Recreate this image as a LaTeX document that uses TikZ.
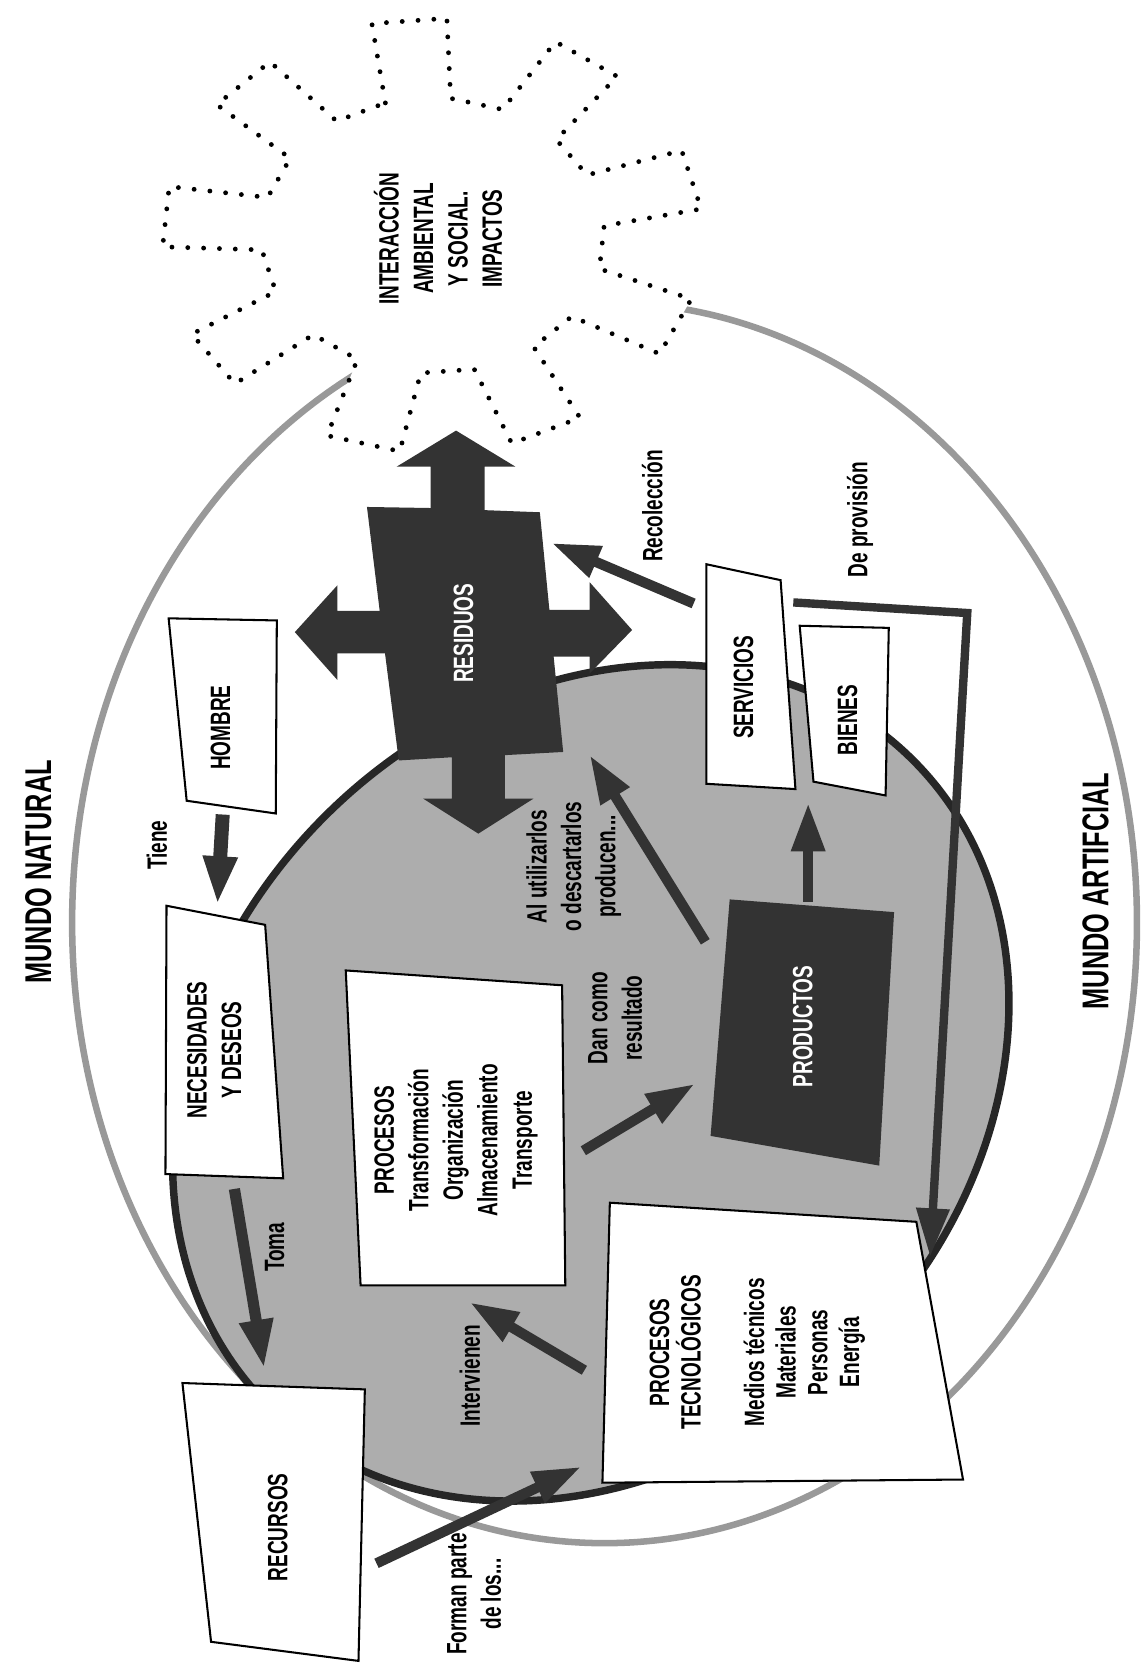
\documentclass[tikz,border=0pt]{standalone}
\usepackage{fontspec}
\setmainfont{Liberation Sans}[FakeStretch=0.68]
\usetikzlibrary{arrows.meta}

\begin{document}
\begin{tikzpicture}[
    x=0.02cm, y=-0.02cm,
    >=Triangle,
    every node/.style={font=\bfseries\fontsize{15}{18.5}\selectfont,
        align=center, inner sep=0pt, rotate=90},
    % mundo natural / artificial
    titulo/.style={font=\bfseries\fontsize{20}{24}\selectfont},
    % cajas blancas
    caja/.style={draw=black, line width=1.1pt, fill=white, line join=miter},
    % cajas oscuras
    oscura/.style={fill=black!80, draw=none},
    blanco/.style={text=white},
    % flechas
    flecha/.style={draw=black!80, line width=5.5pt,
        -{Triangle[length=26pt,width=17pt]}},
    % aros
    anillo/.style={draw=black!40, line width=3.5pt},
    disco/.style={draw=black!85, line width=4pt, fill=black!32},
    engranaje/.style={draw=black, line width=2.6pt, line cap=round,
        dash pattern=on 0pt off 8.5pt, fill=white},
]

\path[fill=white] (0,0) rectangle (1079,1568);
\useasboundingbox (0,0) rectangle (1079,1568);

%% ── aro exterior (mundo natural) ─────────────────────
\draw[anillo] (570,870) ellipse [x radius=502, y radius=585];

%% ── engranaje punteado ───────────────────────────────
\def\gx{408} \def\gy{222}
\begin{scope}[shift={(\gx,\gy)}]
\path[engranaje] (-106:162 and 130)
    \foreach \a in {-95,-55,...,225}{
        -- (\a-11:162 and 130) -- (\a-8:255 and 205)
        -- (\a+8:255 and 205) -- (\a+11:162 and 130)
    } -- cycle;
\end{scope}

%% ── disco interior (mundo artificial) ────────────────
\draw[disco, rotate around={45:(557,1021)}]
    (557,1021) ellipse [x radius=430, y radius=355];

%% ── residuos (cruz de flechas) ───────────────────────
\fill[oscura] (430,406) -- (486,440) -- (457,440) -- (457,481) -- (509,483)
    -- (518,575) -- (556,575) -- (556,549) -- (596,594) -- (556,635)
    -- (556,619) -- (522,619) -- (531,709) -- (476,712) -- (476,753)
    -- (503,753) -- (451,786) -- (399,753) -- (426,753) -- (426,714)
    -- (376,717) -- (363,616) -- (318,616) -- (318,641) -- (278,596)
    -- (318,552) -- (318,576) -- (358,576) -- (346,478) -- (406,479)
    -- (406,440) -- (374,440) -- cycle;

%% ── productos ────────────────────────────────────────
\fill[oscura] (688,848) -- (843,860) -- (829,1099) -- (670,1071) -- cycle;

%% ── cajas blancas ────────────────────────────────────
\draw[caja] (159,583) -- (261,585) -- (260,767) -- (176,755) -- cycle;      % hombre
\draw[caja] (157,854) -- (250,872) -- (267,1111) -- (156,1107) -- cycle;    % necesidades
\draw[caja] (172,1304) -- (344,1310) -- (338,1566) -- (199,1548) -- cycle;  % recursos
\draw[caja] (326,915) -- (530,929) -- (533,1212) -- (340,1212) -- cycle;    % procesos
\draw[caja] (575,1134) -- (864,1152) -- (908,1395) -- (568,1398) -- cycle;  % tecnologicos
\draw[caja] (666,532) -- (736,547) -- (750,744) -- (666,739) -- cycle;      % servicios
\draw[caja] (754,590) -- (838,592) -- (835,750) -- (767,737) -- cycle;      % bienes

%% ── extremos de las flechas ──────────────────────────
\coordinate (tiene-a) at (210,768);   \coordinate (tiene-b) at (205,853);
\coordinate (toma-a) at (221,1121);   \coordinate (toma-b) at (249,1290);
\coordinate (forman-a) at (355,1474); \coordinate (forman-b) at (548,1383);
\coordinate (interv-a) at (551,1292); \coordinate (interv-b) at (443,1228);
\coordinate (dan-a) at (550,1085);    \coordinate (dan-b) at (655,1022);
\coordinate (util-a) at (665,888);    \coordinate (util-b) at (556,712);
\coordinate (bien-a) at (762,850);    \coordinate (bien-b) at (762,757);
\coordinate (recol-a) at (654,569);   \coordinate (recol-b) at (520,512);
\coordinate (prov-a) at (748,568);    \coordinate (prov-b) at (912,578);
\coordinate (prov-c) at (877,1185);

%% ── flechas ──────────────────────────────────────────
\draw[flecha, line width=7.5pt] (tiene-a) -- (tiene-b);
\draw[flecha, line width=6pt] (toma-a) -- (toma-b);
\foreach \f in {forman, interv, dan, util, bien, recol}{
    \draw[flecha] (\f-a) -- (\f-b);
}
\draw[flecha, line width=4.5pt, line join=miter] (prov-a) -- (prov-b) -- (prov-c);

%% ── textos ───────────────────────────────────────────
\node[titulo] (natural) at (36,822) {MUNDO NATURAL};
\node[titulo] (artificial) at (1033,840) {MUNDO ARTIFCIAL};
\node (impactos) at (413,225) {INTERACCIÓN\\AMBIENTAL\\Y SOCIAL.\\IMPACTOS};

\node (hombre) at (208,686) {HOMBRE};
\node (necesidades) at (202,990) {NECESIDADES\\Y DESEOS};
\node (recursos) at (262,1440) {RECURSOS};
\node (procesos) at (430,1075)
    {PROCESOS\\Transformación\\Organización\\Almacenamiento\\Transporte};
\node[font=\bfseries\fontsize{15}{17}\selectfont] (tecnologicos) at (714,1275)
    {PROCESOS\\TECNOLÓGICOS\\[17pt]Medios técnicos\\Materiales\\Personas\\Energía};
\node (servicios) at (701,648) {SERVICIOS};
\node (bienes) at (799,679) {BIENES};
\node[blanco] (residuos) at (437,597) {RESIDUOS};
\node[blanco] (productos) at (757,968) {PRODUCTOS};

\node (tiene) at (148,797) {Tiene};
\node (toma) at (259,1176) {Toma};
\node (intervienen) at (443,1297) {Intervienen};
\node (dancomo) at (580,960) {Dan como\\resultado};
\node (utilizarlos) at (541,817) {Al utilizarlos\\o descartarlos\\producen...};
\node (recoleccion) at (615,477) {Recolección};
\node (provision) at (811,490) {De provisión};
\node (forman) at (447,1503) {Forman parte\\de los...};

\end{tikzpicture}
\end{document}
